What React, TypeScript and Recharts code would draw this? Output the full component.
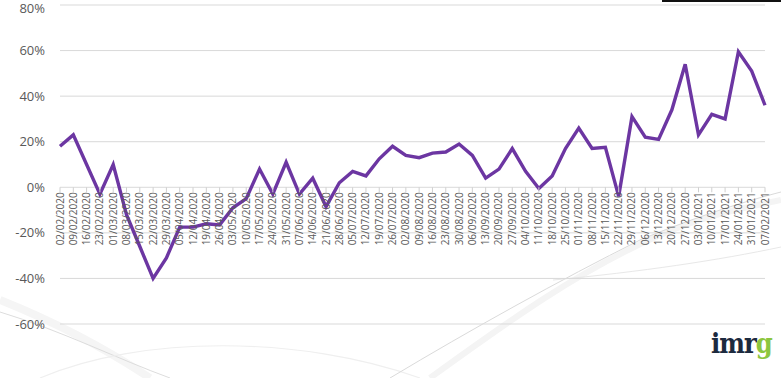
import React from 'react';
import { LineChart, Line, XAxis, YAxis, CartesianGrid } from 'recharts';

const weeks: string[] = [
  '02/02/2020', '09/02/2020', '16/02/2020', '23/02/2020', '01/03/2020', '08/03/2020',
  '15/03/2020', '22/03/2020', '29/03/2020', '05/04/2020', '12/04/2020', '19/04/2020',
  '26/04/2020', '03/05/2020', '10/05/2020', '17/05/2020', '24/05/2020', '31/05/2020',
  '07/06/2020', '14/06/2020', '21/06/2020', '28/06/2020', '05/07/2020', '12/07/2020',
  '19/07/2020', '26/07/2020', '02/08/2020', '09/08/2020', '16/08/2020', '23/08/2020',
  '30/08/2020', '06/09/2020', '13/09/2020', '20/09/2020', '27/09/2020', '04/10/2020',
  '11/10/2020', '18/10/2020', '25/10/2020', '01/11/2020', '08/11/2020', '15/11/2020',
  '22/11/2020', '29/11/2020', '06/12/2020', '13/12/2020', '20/12/2020', '27/12/2020',
  '03/01/2021', '10/01/2021', '17/01/2021', '24/01/2021', '31/01/2021', '07/02/2021',
];

const growth: number[] = [
  18, 23, 10, -3, 10, -12,
  -26, -40, -31, -17.5, -17.5, -16,
  -16.5, -9, -5, 8, -3, 11,
  -3, 4, -8.5, 2, 7, 5,
  12.5, 18, 14, 13, 15, 15.5,
  19, 14, 4, 8, 17, 7,
  -0.5, 5, 17, 26, 17, 17.5,
  -4, 31, 22, 21, 34, 54,
  23, 32, 30, 59.5, 51, 36,
];

const yTicks: number[] = [-60, -40, -20, 0, 20, 40, 60, 80];

const data = weeks.map((w, i) => ({ week: w, value: growth[i] }));

const W = 781;
const H = 378;
const MARGIN = { top: 5, right: 16, left: 0, bottom: 53 };
const XAXIS_H = 1;
const Y_MIN = yTicks[0];
const Y_MAX = yTicks[yTicks.length - 1];
const PLOT_H = H - MARGIN.top - MARGIN.bottom - XAXIS_H;
const ZERO_Y = MARGIN.top + PLOT_H * (Y_MAX / (Y_MAX - Y_MIN));

const XTick = (props: any) => {
  const { x, payload } = props;
  return (
    <g>
      <line x1={x} x2={x} y1={ZERO_Y} y2={ZERO_Y + 5} stroke="#d0d0d0" strokeWidth={1} />
      <text
        transform={`translate(${x},${ZERO_Y + 5}) rotate(-90)`}
        textAnchor="end"
        dy="0.35em"
        fill="#595959"
        fontSize={10}
        fontFamily="'Open Sans', sans-serif"
      >
        {payload.value}
      </text>
    </g>
  );
};

export default function App() {
  return (
    <div
      style={{
        position: 'absolute',
        left: 0,
        top: 0,
        width: W,
        height: H,
        overflow: 'hidden',
        background: '#ffffff',
      }}
    >
      <svg width={W} height={H} style={{ position: 'absolute', left: 0, top: 0 }}>
        <path d="M0,300 C50,320 100,345 150,378" stroke="#f5f5f5" strokeWidth={8} fill="none" />
        <path d="M0,312 C60,330 120,360 170,378" stroke="#dddddd" strokeWidth={1} fill="none" />
        <path d="M40,378 C140,335 300,335 420,378" stroke="#efefef" strokeWidth={1.2} fill="none" />
        <path d="M430,378 C510,320 580,270 660,235 C720,210 760,205 781,200" stroke="#f4f4f4" strokeWidth={6} fill="none" />
        <path d="M390,378 C470,330 560,280 640,240 C700,215 750,200 781,192" stroke="#dadada" strokeWidth={1} fill="none" />
        <path d="M553,280 C640,272 720,260 781,247" stroke="#e8e8e8" strokeWidth={1} fill="none" />
        <rect x={662} y={0} width={119} height={2} fill="#111111" />
      </svg>
      <div style={{ position: 'absolute', left: 0, top: 0 }}>
        <LineChart width={W} height={H} data={data} margin={MARGIN}>
          <CartesianGrid horizontal vertical={false} stroke="#d9d9d9" strokeWidth={1} />
          <XAxis
            dataKey="week"
            interval={0}
            height={XAXIS_H}
            axisLine={false}
            tickLine={false}
            tick={<XTick />}
          />
          <YAxis
            width={60}
            domain={[Y_MIN, Y_MAX]}
            ticks={yTicks}
            allowDataOverflow
            axisLine={false}
            tickLine={false}
            tickSize={0}
            tickMargin={15}
            tickFormatter={(v: number) => `${v}%`}
            tick={{ fill: '#595959', fontSize: 13, fontFamily: "'Open Sans', sans-serif" }}
          />
          <Line
            type="linear"
            dataKey="value"
            stroke="#6c36a2"
            strokeWidth={3.4}
            dot={false}
            activeDot={false}
            isAnimationActive={false}
          />
        </LineChart>
      </div>
      <svg width={W} height={H} style={{ position: 'absolute', left: 0, top: 0, pointerEvents: 'none' }}>
        <text
          x={711}
          y={353}
          fontSize={27}
          fontWeight="bold"
          fontFamily="'DejaVu Serif Condensed', 'DejaVu Serif', serif"
          letterSpacing={-1}
        >
          <tspan fill="#1c2a3e">imr</tspan>
          <tspan fill="#8cc63f">g</tspan>
        </text>
      </svg>
    </div>
  );
}
